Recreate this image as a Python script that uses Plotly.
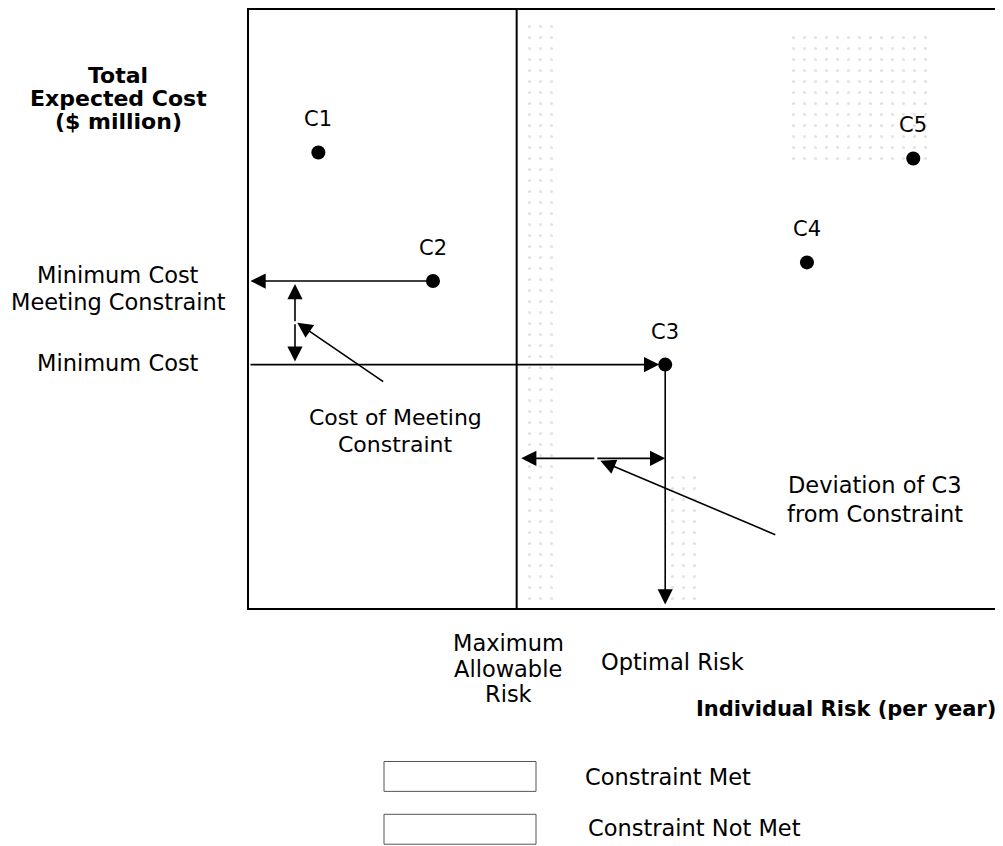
import plotly.graph_objects as go

# ---- data ----
designs = ["C1", "C2", "C3", "C4", "C5"]
risk = [0.92, 2.44, 5.52, 7.40, 8.81]
cost = [7.58, 5.44, 4.05, 5.75, 7.48]
max_allowable_risk = 3.55
min_cost = cost[2]
min_cost_meeting = cost[1]
optimal_risk = risk[2]
cost_gap_x = 0.61
deviation_y = 2.49

OFF = 8                      # page body margin
W, H = 995, 838
L, R, T, B = 241, 0, 0, 238
PW, PH = W - L - R, H - T - B
FONT = "DejaVu Sans, Liberation Sans, Arial, sans-serif"

def px(xp):
    return (xp - OFF - L) / PW

def py(yp):
    return (H - B - (yp - OFF)) / PH

fig = go.Figure()

# faint, sparse stipple of the "constraint not met" region (scanned shading)
stipple = dict(shape=".", fgcolor="#c4c4c4", bgcolor="rgba(0,0,0,0)", size=11, solidity=0.06)
for x0, x1, y0, y1 in [(3.62, 4.05, 0.05, 9.8), (7.1, 9.1, 7.4, 9.6), (5.55, 5.95, 0.05, 2.3)]:
    fig.add_trace(go.Bar(x=[(x0 + x1) / 2], y=[y1 - y0], base=[y0], width=[x1 - x0],
                         marker=dict(color="rgba(0,0,0,0)", line=dict(width=0), pattern=stipple),
                         showlegend=False, hoverinfo="skip"))

fig.add_trace(go.Scatter(
    x=risk, y=cost, mode="markers",
    marker=dict(color="black", size=14),
    showlegend=False, hoverinfo="skip"))

ann = []
for d, xr, yc in zip(designs, risk, cost):
    ann.append(dict(x=xr, y=yc, xref="x", yref="y", text=d, showarrow=False,
                    yshift=33, font=dict(size=21, family=FONT, color="black")))

def arrow(x0, y0, x1, y1, w=1.6, size=1.9, standoff=0):
    ann.append(dict(x=x1, y=y1, ax=x0, ay=y0, xref="x", yref="y", axref="x", ayref="y",
                    text="", showarrow=True, arrowhead=2, arrowsize=size,
                    arrowwidth=w, arrowcolor="black", standoff=standoff))

shapes = []
shapes.append(dict(type="line", xref="x", yref="y", x0=max_allowable_risk, x1=max_allowable_risk,
                   y0=0, y1=10, line=dict(color="black", width=2)))

arrow(0, min_cost, optimal_risk, min_cost, standoff=6)
arrow(risk[1], min_cost_meeting, 0.02, min_cost_meeting)
mid = (min_cost + min_cost_meeting) / 2
arrow(cost_gap_x, mid, cost_gap_x, min_cost_meeting - 0.05)
arrow(cost_gap_x, mid, cost_gap_x, min_cost + 0.05)
arrow(1.80, 3.75, cost_gap_x + 0.03, mid)
arrow(optimal_risk, min_cost, optimal_risk, 0.06)
midx = 4.6
arrow(midx, deviation_y, max_allowable_risk + 0.06, deviation_y)
arrow(midx, deviation_y, optimal_risk, deviation_y)
arrow(7.0, 1.21, 4.66, deviation_y - 0.04)

def txt(x, ys, lines, size=22.5, bold=False, xanchor="center"):
    for y, s in zip(ys, lines):
        ann.append(dict(x=px(x), y=py(y), xref="paper", yref="paper", text=s, showarrow=False,
                        xanchor=xanchor, yanchor="middle",
                        font=dict(size=size, family=FONT, color="black",
                                  weight="bold" if bold else "normal")))

txt(118, [74, 97, 120], ["Total", "Expected Cost", "($ million)"], size=22, bold=True)
txt(118, [274, 301], ["Minimum Cost", "Meeting Constraint"])
txt(118, [362], ["Minimum Cost"])
txt(395, [417, 444], ["Cost of Meeting", "Constraint"], size=22)
txt(875, [485, 514], ["Deviation of C3", "from Constraint"])
txt(508, [643, 669, 694], ["Maximum", "Allowable", "Risk"])
txt(672, [662], ["Optimal Risk"])
txt(846, [709], ["Individual Risk (per year)"], size=21, bold=True)
txt(583, [778], ["Constraint Met"], xanchor="left")
txt(586, [829], ["Constraint Not Met"], xanchor="left")

for y0, y1 in [(762, 792), (815, 845)]:
    shapes.append(dict(type="rect", xref="paper", yref="paper",
                       x0=px(384), x1=px(536), y0=py(y1), y1=py(y0),
                       line=dict(color="#555555", width=1), fillcolor="white"))

fig.update_layout(
    width=W, height=H,
    margin=dict(l=L, r=R, t=T, b=B),
    paper_bgcolor="white", plot_bgcolor="white",
    barmode="overlay",
    xaxis=dict(range=[0, 10], showgrid=False, zeroline=False, showticklabels=False,
               ticks="", showline=True, linecolor="black", linewidth=2, mirror=True),
    yaxis=dict(range=[0, 9.95], showgrid=False, zeroline=False, showticklabels=False,
               ticks="", showline=True, linecolor="black", linewidth=2, mirror=False),
    annotations=ann, shapes=shapes,
)

fig.write_html("out.html")
